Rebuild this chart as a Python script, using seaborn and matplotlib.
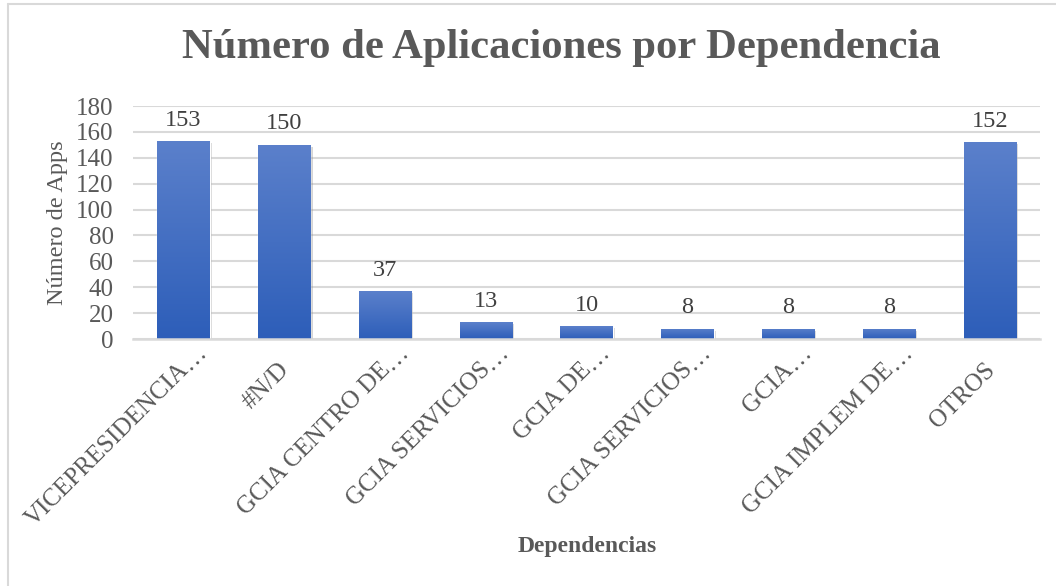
import numpy as np
import pandas as pd
import matplotlib
matplotlib.use('Agg')
import matplotlib.pyplot as plt
import matplotlib.patheffects as pe
import matplotlib.transforms as mtransforms
from matplotlib.colors import LinearSegmentedColormap
from matplotlib.lines import Line2D
import seaborn as sns

# Data
dependencias = ['VICEPRESIDENCIA…', '#N/D', 'GCIA CENTRO DE…', 'GCIA SERVICIOS…',
                'GCIA DE…', 'GCIA SERVICIOS…', 'GCIA…', 'GCIA IMPLEM DE…', 'OTROS']
num_apps = [153, 150, 37, 13, 10, 8, 8, 8, 152]
y_ticks = [0, 20, 40, 60, 80, 100, 120, 140, 160, 180]

sns.set_theme(style='white')
plt.rcParams['font.family'] = ['Liberation Serif', 'DejaVu Serif']

df = pd.DataFrame({'pos': list(range(len(dependencias))), 'apps': num_apps})

fig = plt.figure(figsize=(10.56, 5.86), dpi=100)
ax = fig.add_axes([0.126, 0.4215, 0.859, 0.3975])

sns.barplot(data=df, x='pos', y='apps', color='#4472C4', width=0.52,
            saturation=1, ax=ax, zorder=3)

# Excel-like vertical gradient + soft shadow on each bar
grad_cmap = LinearSegmentedColormap.from_list('bar', ['#2D5EB9', '#5B80CB'])
grad = np.linspace(0, 1, 256).reshape(-1, 1)
for p in ax.patches:
    x0, y0 = p.get_x(), p.get_y()
    w, h = p.get_width(), p.get_height()
    p.set_path_effects([pe.SimplePatchShadow(offset=(1.5, -1.5), shadow_rgbFace='#888888', alpha=0.35),
                        pe.Normal()])
    im = ax.imshow(grad, extent=[x0, x0 + w, y0, y0 + h], origin='lower',
                   cmap=grad_cmap, aspect='auto', zorder=4)
    im.set_clip_path(p)

ax.set_xlim(-0.5, len(dependencias) - 0.5)
ax.set_ylim(0, 180)
ax.set_yticks(y_ticks)
ax.set_xticks(df['pos'])
ax.tick_params(axis='y', labelsize=18, labelcolor='#595959', length=0, pad=14)
ax.tick_params(axis='x', length=0, labelbottom=False)

# Rotated category labels; Excel lets the "…" overflow past the anchor
lbl_shift = mtransforms.ScaledTranslation(-6 / 100, -20 / 100, fig.dpi_scale_trans)
lbl_trans = ax.get_xaxis_transform() + lbl_shift
for xi, name in zip(df['pos'], dependencias):
    body = name.rstrip('…')
    ax.text(xi, 0, body, transform=lbl_trans, rotation=45, rotation_mode='anchor',
            ha='right', va='top', fontsize=18, color='#595959')
    if name.endswith('…'):
        ax.text(xi, 0, '…', transform=lbl_trans, rotation=45, rotation_mode='anchor',
                ha='left', va='top', fontsize=18, color='#595959')

ax.yaxis.grid(True, color='#D9D9D9', linewidth=1.5, zorder=0)
for s in ['top', 'right', 'left']:
    ax.spines[s].set_visible(False)
ax.spines['bottom'].set_color('#D9D9D9')
ax.spines['bottom'].set_linewidth(1.8)
ax.spines['bottom'].set_zorder(5)

for xi, v in zip(df['pos'], num_apps):
    ax.annotate(str(v), (xi, v), xytext=(0, 7.5), textcoords='offset points',
                ha='center', va='bottom', fontsize=17.5, color='#404040')

ax.set_ylabel('Número de Apps', fontsize=17.5, color='#595959', labelpad=6)
ax.set_xlabel('')

fig.text(0.532, 0.918, 'Número de Aplicaciones por Dependencia', ha='center', va='center',
         fontsize=30.7, fontweight='bold', color='#595959')
fig.text(0.556, 0.067, 'Dependencias', ha='center', va='center',
         fontsize=17, fontweight='bold', color='#595959')

# chart border (left and top edges visible in reference)
fig.add_artist(Line2D([0.0075, 0.0075], [0, 0.993], transform=fig.transFigure,
                      color='#D9D9D9', linewidth=1.5))
fig.add_artist(Line2D([0.0075, 1.0], [0.993, 0.993], transform=fig.transFigure,
                      color='#D9D9D9', linewidth=1.5))

fig.savefig('out.png', dpi=100)
